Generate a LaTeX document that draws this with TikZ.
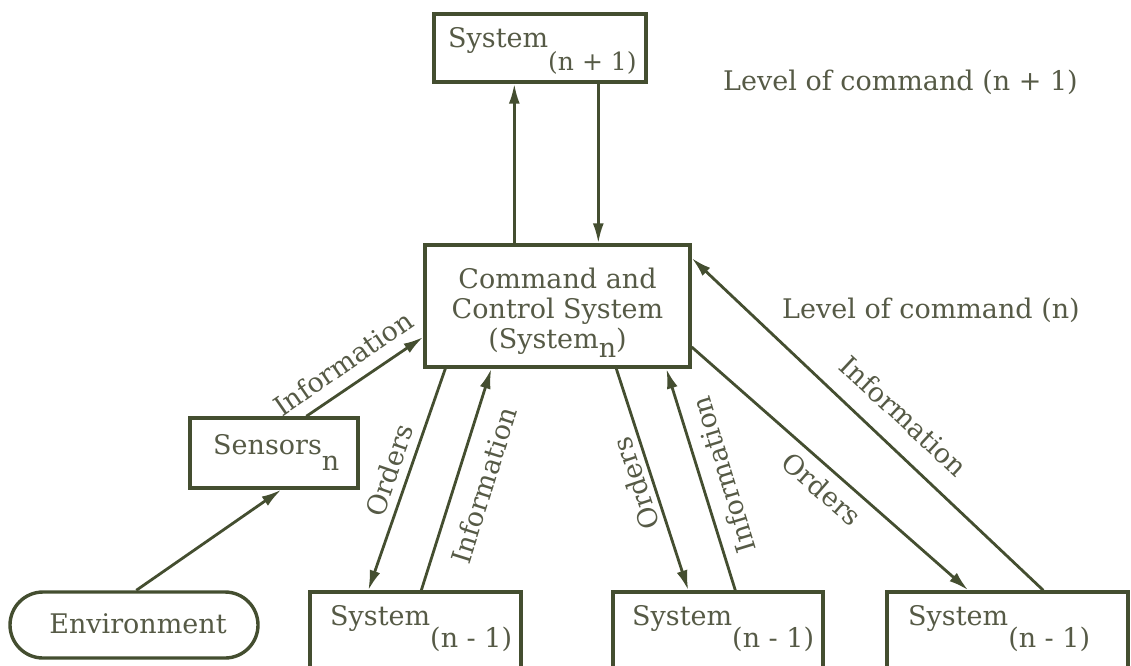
\documentclass[tikz,border=0pt]{standalone}
\usepackage{fontspec}
\setmainfont{DejaVu Serif}
\usetikzlibrary{arrows.meta}
\definecolor{inkc}{RGB}{68,78,48}
\definecolor{txtc}{RGB}{86,90,70}
\newcommand\lowsub[2]{\raisebox{-#1}{#2}}
\begin{document}
\begin{tikzpicture}[x=1pt,y=-1pt,
  box/.style={draw=inkc,line width=3.4pt,rectangle,inner sep=0pt},
  lbl/.style={text=txtc,font=\fontsize{27}{30}\selectfont,inner sep=0pt},
  conn/.style={draw=inkc,line width=2.8pt},
  arr/.style={conn,-{Latex[length=20pt,width=11pt]}},
]
\useasboundingbox (0,0) rectangle (1131,665);
\clip (0,0) rectangle (1131,665);
% boxes
\node[box,minimum width=212pt,minimum height=68pt] (topb) at (540,48) {};
\node[box,minimum width=265pt,minimum height=122pt] (cc) at (557.5,306) {};
\node[box,minimum width=168pt,minimum height=70pt] (sens) at (274,453) {};
\node[box,rounded corners=33pt,minimum width=248pt,minimum height=66pt] (env) at (134,625) {};
\node[box,minimum width=211pt,minimum height=100pt] (b1) at (415.5,642) {};
\node[box,minimum width=210pt,minimum height=100pt] (b2) at (718,642) {};
\node[box,minimum width=241pt,minimum height=100pt] (b3) at (1007.5,642) {};
% texts
\node[lbl,anchor=base west] (ttop) at (448,47) {System\lowsub{23pt}{\fontsize{25}{28}\selectfont(n + 1)}};
\node[lbl,anchor=base,align=center] (tcc) at (557.5,348) {Command and\\Control System\\(System\lowsub{9pt}{n})};
\node[lbl,anchor=base west] (lvl1) at (723,90) {Level of command (n + 1)};
\node[lbl,anchor=base west] (lvl0) at (782,318) {Level of command (n)};
\node[lbl,anchor=base west] (tsens) at (213,454) {Sensors\lowsub{16pt}{n}};
\node[lbl,anchor=base] (tenv) at (138,633) {Environment};
\node[lbl,anchor=base west] (tb1) at (330,625) {System\lowsub{22pt}{(n - 1)}};
\node[lbl,anchor=base west] (tb2) at (632,625) {System\lowsub{22pt}{(n - 1)}};
\node[lbl,anchor=base west] (tb3) at (908,625) {System\lowsub{22pt}{(n - 1)}};
% connectors
\draw[arr] ([xshift=91pt]cc.north west) -- ([xshift=82pt]topb.south west);
\draw[arr] ([xshift=166pt]topb.south west) -- ([xshift=175pt]cc.north west);
\draw[arr] ([xshift=128pt]env.north west) -- ([xshift=93pt]sens.south west);
\draw[arr] ([xshift=118pt]sens.north west) -- ([yshift=-31pt]cc.west);
\draw[arr] ([xshift=22pt]cc.south west) -- ([xshift=60pt]b1.north west);
\draw[arr] ([xshift=113pt]b1.north west) -- ([xshift=68pt]cc.south west);
\draw[arr] ([xshift=193pt]cc.south west) -- ([xshift=77pt]b2.north west);
\draw[arr] ([xshift=124pt]b2.north west) -- ([xshift=243pt]cc.south west);
\draw[arr] ([yshift=-41pt]cc.east) -- ([xshift=83pt]b3.north west);
\draw[arr] ([xshift=158pt]b3.north west) -- ([yshift=48pt]cc.east);
% connector labels
\node[lbl,rotate=34.7] (lInfoS) at (343,363) {Information};
\node[lbl,rotate=71] (lOrd1) at (389,470) {Orders};
\node[lbl,rotate=72.7] (lInfo1) at (484,485) {Information};
\node[lbl,rotate=108.7] (lOrd2) at (636,484) {Orders};
\node[lbl,rotate=107] (lInfo2) at (723,475) {Information};
\node[lbl,rotate=-41] (lOrd3) at (822,489) {Orders};
\node[lbl,rotate=-43] (lInfo3) at (904,416) {Information};
\end{tikzpicture}
\end{document}
